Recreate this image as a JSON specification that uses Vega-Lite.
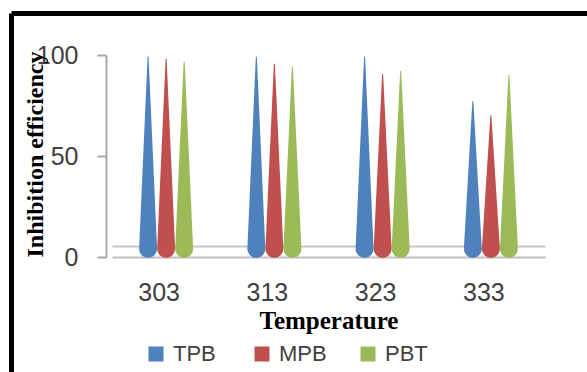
{
  "$schema": "https://vega.github.io/schema/vega-lite/v6.json",
  "width": 576,
  "height": 359,
  "autosize": {"type": "none"},
  "padding": {"left": 11, "top": 13, "right": 0, "bottom": 0},
  "background": "white",
  "config": {"view": {"stroke": null}, "font": "Liberation Sans"},
  "data": {
    "values": [
      {"Temperature": "303", "Inhibitor": "TPB", "Efficiency": 99},
      {"Temperature": "303", "Inhibitor": "MPB", "Efficiency": 98},
      {"Temperature": "303", "Inhibitor": "PBT", "Efficiency": 96.5},
      {"Temperature": "313", "Inhibitor": "TPB", "Efficiency": 99},
      {"Temperature": "313", "Inhibitor": "MPB", "Efficiency": 95.5},
      {"Temperature": "313", "Inhibitor": "PBT", "Efficiency": 94},
      {"Temperature": "323", "Inhibitor": "TPB", "Efficiency": 99},
      {"Temperature": "323", "Inhibitor": "MPB", "Efficiency": 90.5},
      {"Temperature": "323", "Inhibitor": "PBT", "Efficiency": 92},
      {"Temperature": "333", "Inhibitor": "TPB", "Efficiency": 77},
      {"Temperature": "333", "Inhibitor": "MPB", "Efficiency": 70},
      {"Temperature": "333", "Inhibitor": "PBT", "Efficiency": 90}
    ]
  },
  "layer": [
    {
      "mark": {"type": "point", "opacity": 0},
      "encoding": {
        "x": {"field": "Efficiency", "type": "quantitative", "scale": {"domain": [0, 1]},
          "axis": {"orient": "top", "domainColor": "black", "domainWidth": 5, "labels": false, "ticks": false, "grid": false, "title": null}},
        "y": {"field": "Efficiency", "type": "quantitative", "scale": {"domain": [0, 1]},
          "axis": {"orient": "left", "domainColor": "black", "domainWidth": 5, "labels": false, "ticks": false, "grid": false, "title": null}}
      }
    },
    {
      "transform": [
        {"calculate": "4", "as": "Base"},
        {"fold": ["Efficiency", "Base"], "as": ["Level", "Value"]}
      ],
      "layer": [
        {
          "mark": {"type": "point", "opacity": 0},
          "encoding": {
            "x": {"field": "Temperature", "type": "nominal",
              "axis": {"orient": "top", "offset": -233, "domainColor": "#c8c8c8", "domainWidth": 2, "labels": false, "ticks": false, "grid": false, "title": null}}
          }
        },
        {
          "mark": {"type": "trail"},
          "encoding": {
            "x": {"field": "Temperature", "type": "nominal",
              "scale": {"type": "band", "range": [101, 534], "paddingInner": 0.5, "paddingOuter": 0.25},
              "axis": {"orient": "bottom", "offset": -115, "domainColor": "#c0c0c0", "domainWidth": 2, "ticks": false,
                "labelFontSize": 25, "labelColor": "#404040", "labelPadding": 23, "labelOffset": -7, "labelAngle": 0,
                "title": "Temperature", "titleFont": "Liberation Serif", "titleFontWeight": "bold", "titleFontSize": 25,
                "titleColor": "black", "titlePadding": 3, "grid": false}},
            "xOffset": {"field": "Inhibitor", "type": "nominal", "sort": ["TPB", "MPB", "PBT"]},
            "y": {"field": "Value", "type": "quantitative",
              "scale": {"domain": [0, 100], "range": [244, 42]},
              "axis": {"orient": "left", "offset": -95, "values": [0, 50, 100], "domainColor": "#a6a6a6", "domainWidth": 2,
                "tickColor": "#a6a6a6", "tickWidth": 2, "tickSize": 9, "labelFontSize": 25, "labelColor": "#404040",
                "labelPadding": 19, "grid": false, "title": "Inhibition efficiency", "titleFont": "Liberation Serif",
                "titleFontWeight": "bold", "titleFontSize": 24, "titleColor": "black", "titleX": -59, "titleY": 141,
                "titleAngle": -90, "titleBaseline": "bottom", "titleAlign": "center"}},
            "size": {"field": "Level", "type": "ordinal", "scale": {"domain": ["Base", "Efficiency"], "range": [18, 0]}, "legend": null},
            "detail": {"field": "Temperature", "type": "nominal"},
            "color": {"field": "Inhibitor", "type": "nominal", "sort": ["TPB", "MPB", "PBT"],
              "scale": {"domain": ["TPB", "MPB", "PBT"], "range": ["#4F81BD", "#C0504D", "#9BBB59"]},
              "legend": {"orient": "none", "legendX": 134, "legendY": 330, "direction": "horizontal", "columns": 3,
                "title": null, "symbolType": "square", "symbolSize": 225, "labelFontSize": 22, "labelColor": "#404040",
                "gridAlign": "all", "columnPadding": 30, "labelOffset": 6, "symbolStrokeWidth": 0,
                "encode": {"symbols": {"update": {"fill": {"scale": "color", "field": "value"}, "strokeWidth": {"value": 0}}}}}},
            "order": {"field": "Value", "type": "quantitative"}
          }
        }
      ],
      "resolve": {"axis": {"x": "independent"}}
    }
  ],
  "resolve": {"scale": {"x": "independent", "y": "independent"}}
}
